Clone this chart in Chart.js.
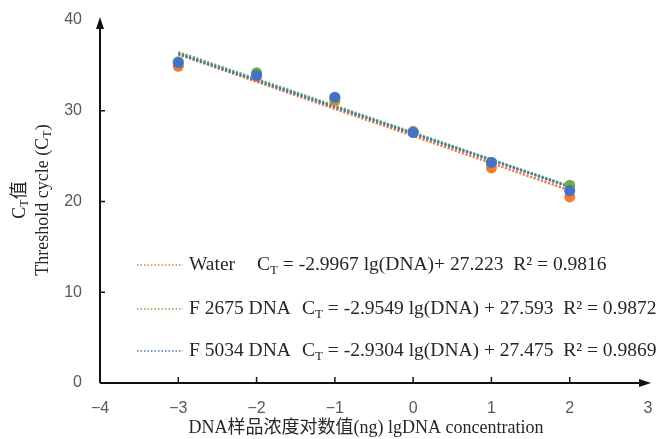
<!DOCTYPE html>
<html>
<head>
<meta charset="utf-8">
<script src="https://cdn.jsdelivr.net/npm/chart.js@4.4.1/dist/chart.umd.min.js"></script>
<style>
  html, body { margin: 0; padding: 0; background: #fff; }
  #wrap { width: 662px; height: 439px; }
</style>
</head>
<body>
<div id="wrap"><canvas id="c" width="662" height="439"></canvas></div>
<script>
// --- data ---
const xValues = [-3, -2, -1, 0, 1, 2];
const waterCt = [34.9, 33.8, 31.1, 27.7, 23.7, 20.5];
const f2675Ct = [35.4, 34.2, 31.4, 27.7, 24.3, 21.8];
const f5034Ct = [35.3, 33.9, 31.5, 27.6, 24.3, 21.2];

// regression lines as printed in the legend
const seriesNames = ["Water", "F 2675 DNA", "F 5034 DNA"];
const slopes = [-2.9967, -2.9549, -2.9304];
const intercepts = [27.223, 27.593, 27.475];
const eqTexts = [" = -2.9967 lg(DNA)+ 27.223  R\u00b2 = 0.9816",
                 " = -2.9549 lg(DNA) + 27.593  R\u00b2 = 0.9872",
                 " = -2.9304 lg(DNA) + 27.475  R\u00b2 = 0.9869"];
const trendRange = [-3, 2];

const xTicks = [-4, -3, -2, -1, 0, 1, 2, 3];
const yTicks = [0, 10, 20, 30, 40];

const COLORS = ["#ED7D31", "#70AD47", "#4472C4"];
const SERIF = "'Liberation Serif', 'Times New Roman', 'Noto Sans CJK SC', serif";
const SANS = "'Liberation Sans', Arial, sans-serif";

function pts(ys) { return xValues.map((x, i) => ({ x, y: ys[i] })); }
function trend(i) {
  return trendRange.map(x => ({ x, y: intercepts[i] + slopes[i] * x }));
}

// draws text pieces, {t, sub} -> subscript, returns end x
function drawRich(ctx, x, y, parts, size) {
  parts.forEach(p => {
    const s = p.sub ? Math.round(size * 0.68) : size;
    ctx.font = s + "px " + SERIF;
    ctx.fillText(p.t, x, y + (p.sub ? size * 0.28 : 0));
    x += ctx.measureText(p.t).width;
  });
  return x;
}
function richWidth(ctx, parts, size) {
  let w = 0;
  parts.forEach(p => {
    ctx.font = (p.sub ? Math.round(size * 0.68) : size) + "px " + SERIF;
    w += ctx.measureText(p.t).width;
  });
  return w;
}

const decor = {
  id: "decor",
  beforeDraw(chart) {
    const ctx = chart.ctx;
    ctx.save();
    ctx.fillStyle = "#fff";
    ctx.fillRect(0, 0, chart.width, chart.height);
    ctx.restore();
  },
  afterDraw(chart) {
    const ctx = chart.ctx;
    const xs = chart.scales.x, ys = chart.scales.y;
    const x0 = xs.getPixelForValue(-4), x1 = xs.getPixelForValue(3);
    const y0 = ys.getPixelForValue(0), y1 = ys.getPixelForValue(40);
    ctx.save();
    // axes
    ctx.strokeStyle = "#111";
    ctx.fillStyle = "#111";
    ctx.lineWidth = 2;
    ctx.beginPath();
    ctx.moveTo(x0, y0); ctx.lineTo(x0, y1 + 4);
    ctx.moveTo(x0, y0); ctx.lineTo(x1 - 4, y0);
    ctx.stroke();
    ctx.lineWidth = 1.5;
    ctx.beginPath();
    yTicks.slice(1, -1).forEach(v => {
      const y = ys.getPixelForValue(v);
      ctx.moveTo(x0, y); ctx.lineTo(x0 + 5, y);
    });
    xTicks.slice(1, -1).forEach(v => {
      const x = xs.getPixelForValue(v);
      ctx.moveTo(x, y0); ctx.lineTo(x, y0 - 6);
    });
    ctx.stroke();
    // arrow heads
    ctx.beginPath();
    ctx.moveTo(x0, y1 - 3); ctx.lineTo(x0 - 4, y1 + 9); ctx.lineTo(x0 + 4, y1 + 9); ctx.closePath();
    ctx.fill();
    ctx.beginPath();
    ctx.moveTo(x1 + 3, y0); ctx.lineTo(x1 - 9, y0 - 4); ctx.lineTo(x1 - 9, y0 + 4); ctx.closePath();
    ctx.fill();

    // axis titles
    ctx.fillStyle = "#262626";
    ctx.textBaseline = "middle";
    ctx.textAlign = "left";
    const tsize = 18;
    ctx.font = tsize + "px " + SERIF;
    const xt = "DNA\u6837\u54c1\u6d53\u5ea6\u5bf9\u6570\u503c(ng) lgDNA concentration";
    const xtw = ctx.measureText(xt).width;
    ctx.fillText(xt, 366 - xtw / 2, 428);

    const yl1 = [{ t: "C" }, { t: "T", sub: true }, { t: "\u503c" }];
    const yl2 = [{ t: "Threshold cycle (C" }, { t: "T", sub: true }, { t: ")" }];
    [[yl1, 20], [yl2, 43]].forEach(([parts, cx]) => {
      ctx.save();
      ctx.translate(cx, 200);
      ctx.rotate(-Math.PI / 2);
      drawRich(ctx, -richWidth(ctx, parts, tsize) / 2, 0, parts, tsize);
      ctx.restore();
    });

    // legend with equations
    const rowY = [265, 309, 351];
    const eqX = [257, 302, 302];
    const lsize = 19.5;
    seriesNames.forEach((name, i) => {
      const y = rowY[i];
      ctx.save();
      ctx.strokeStyle = COLORS[i];
      ctx.lineWidth = 1.5;
      ctx.setLineDash([1.5, 2]);
      ctx.beginPath();
      ctx.moveTo(137, y); ctx.lineTo(183, y);
      ctx.stroke();
      ctx.restore();
      ctx.fillStyle = "#262626";
      drawRich(ctx, 189, y, [{ t: name }], lsize);
      drawRich(ctx, eqX[i], y, [{ t: "C" }, { t: "T", sub: true }, { t: eqTexts[i] }], lsize);
    });
    ctx.restore();
  }
};

const datasets = [];
[0, 1, 2].forEach(i => {
  datasets.push({
    label: seriesNames[i] + " trend",
    data: trend(i),
    showLine: true,
    borderColor: COLORS[i],
    borderWidth: 2.5,
    borderDash: [2.2, 1.6],
    pointRadius: 0,
    fill: false,
    order: 10 - i
  });
});
[waterCt, f2675Ct, f5034Ct].forEach((ys, i) => {
  datasets.push({
    label: seriesNames[i],
    data: pts(ys),
    backgroundColor: COLORS[i],
    borderColor: COLORS[i],
    pointRadius: 5.5,
    pointBorderWidth: 0,
    showLine: false,
    order: 3 - i
  });
});

new Chart(document.getElementById("c"), {
  type: "scatter",
  data: { datasets },
  options: {
    responsive: false,
    animation: false,
    events: [],
    layout: { padding: { left: 0, right: 14, top: 20, bottom: 0 } },
    plugins: { legend: { display: false }, tooltip: { enabled: false } },
    scales: {
      x: {
        type: "linear", min: -4, max: 3,
        afterBuildTicks: s => { s.ticks = xTicks.map(v => ({ value: v })); },
        afterFit: s => { s.height = 56; },
        grid: { display: false },
        border: { display: false },
        ticks: {
          color: "#595959", padding: 8,
          font: { family: SANS, size: 16 },
          callback: v => v < 0 ? "\u2212" + Math.abs(v) : String(v)
        }
      },
      y: {
        type: "linear", min: 0, max: 40,
        afterBuildTicks: s => { s.ticks = yTicks.map(v => ({ value: v })); },
        afterFit: s => { s.width = 100; },
        grid: { display: false },
        border: { display: false },
        ticks: {
          color: "#595959", padding: 10,
          font: { family: SANS, size: 16 }
        }
      }
    }
  },
  plugins: [decor]
});
</script>
</body>
</html>
